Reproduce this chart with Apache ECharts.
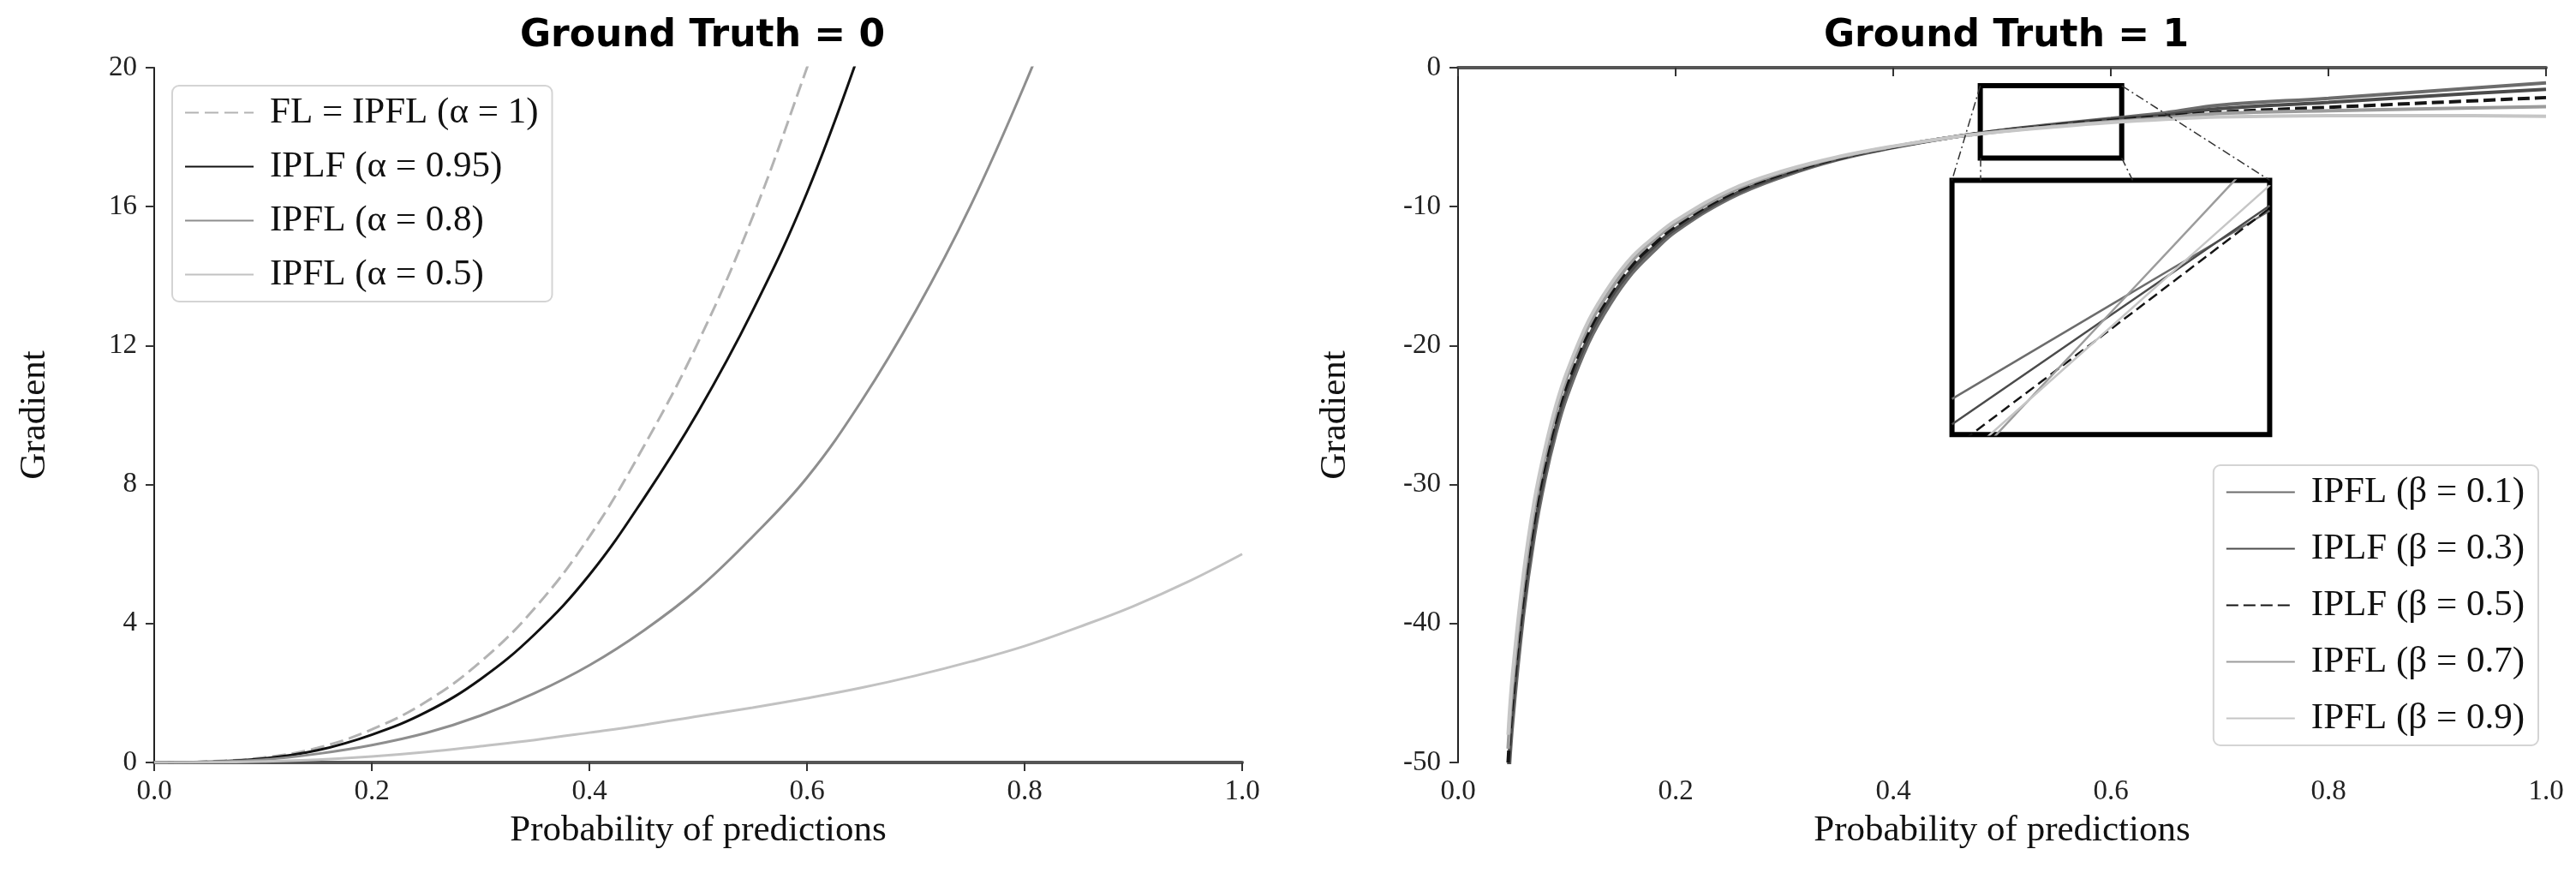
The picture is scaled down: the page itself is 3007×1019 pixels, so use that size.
<!DOCTYPE html>
<html>
<head>
<meta charset="utf-8">
<script src="https://cdn.jsdelivr.net/npm/echarts@6/dist/echarts.min.js"></script>
<style>
	html,body{margin:0;padding:0;background:#fff;}
	#chart{width:3007px;height:1019px;}
</style>
</head>
<body>
<div id="chart"></div>
<script>
// left panel: ground truth = 0
var xLeft = [0, 0.05, 0.1, 0.15, 0.2, 0.25, 0.3, 0.35, 0.4, 0.45, 0.5, 0.55, 0.6, 0.65, 0.7, 0.75, 0.8, 0.85, 0.9, 0.95, 1.0];
var gtZeroA100 = [0, 0.03, 0.14, 0.42, 0.95, 1.75, 2.9, 4.45, 6.5, 9.1, 12.1, 15.7, 20.0, 24.5];
var gtZeroA095 = [0, 0.02, 0.11, 0.35, 0.8, 1.45, 2.4, 3.7, 5.4, 7.6, 10.1, 13.0, 16.4, 20.6];
var gtZeroA080 = [0, 0.02, 0.08, 0.25, 0.5, 0.85, 1.35, 2.0, 2.8, 3.8, 5.0, 6.5, 8.2, 10.4, 13.0, 16.0, 19.5, 23.4];
var gtZeroA050 = [0, 0.005, 0.03, 0.08, 0.17, 0.3, 0.47, 0.65, 0.86, 1.08, 1.33, 1.58, 1.85, 2.15, 2.5, 2.9, 3.35, 3.9, 4.5, 5.2, 6.0];
var leftNames = ['FL = IPFL (α = 1)', 'IPLF (α = 0.95)', 'IPFL (α = 0.8)', 'IPFL (α = 0.5)'];

// right panel: ground truth = 1
var xRight = [0.046, 0.05, 0.06, 0.07, 0.08, 0.09, 0.1, 0.12, 0.14, 0.16, 0.18, 0.2, 0.25, 0.3, 0.35, 0.4, 0.45, 0.5, 0.55, 0.6, 0.65, 0.7, 0.8, 0.9, 1.0];
var gtOneB01 = [-52, -47.3, -39.5, -33.8, -29.6, -26.3, -23.7, -19.8, -17, -14.8, -13.2, -11.8, -9.4, -7.8, -6.6, -5.75, -5.05, -4.5, -4.05, -3.65, -3.25, -2.7, -2.2, -1.65, -1.1];
var gtOneB03 = [-51, -46.4, -38.8, -33.2, -29.1, -25.8, -23.2, -19.4, -16.6, -14.5, -12.9, -11.6, -9.25, -7.7, -6.55, -5.72, -5.05, -4.52, -4.1, -3.72, -3.4, -2.95, -2.5, -2.0, -1.55];
var gtOneB05 = [-50, -45.5, -38, -32.5, -28.5, -25.3, -22.8, -19, -16.3, -14.2, -12.7, -11.4, -9.1, -7.6, -6.5, -5.7, -5.05, -4.55, -4.15, -3.8, -3.5, -3.2, -2.85, -2.5, -2.15];
var gtOneB07 = [-49, -44.6, -37.2, -31.8, -27.9, -24.8, -22.3, -18.6, -16, -13.9, -12.4, -11.2, -8.95, -7.5, -6.45, -5.68, -5.05, -4.58, -4.2, -3.88, -3.6, -3.3, -3.1, -2.95, -2.8];
var gtOneB09 = [-48, -43.7, -36.5, -31.2, -27.4, -24.3, -21.9, -18.2, -15.6, -13.6, -12.2, -11, -8.8, -7.4, -6.4, -5.65, -5.05, -4.6, -4.25, -3.95, -3.72, -3.55, -3.45, -3.45, -3.5];
var rightNames = ['IPFL (β = 0.1)', 'IPLF (β = 0.3)', 'IPLF (β = 0.5)', 'IPFL (β = 0.7)', 'IPFL (β = 0.9)'];

// zoomed inset (values read inside the inset box)
var insetX = [0.48, 0.545, 0.61];
var insetB01 = [-4.79, -4.235, -3.68];
var insetB03 = [-4.94, -4.295, -3.65];
var insetB05 = [-5.085, -4.378, -3.665];
var insetB07 = [-5.28, -4.28, -3.28];
var insetB09 = [-5.2, -4.366, -3.53];
var insetYRange = [-5, -3.5];
var zoomBoxX = [0.48, 0.61];
var zoomBoxY = [-6.5, -1.3];
var insetBoxX = [0.454, 0.746];
var insetBoxY = [-26.4, -8.1];

function pairs(xs, ys){
	var out = [];
	for(var i = 0; i < ys.length; i++){
		out.push([xs[i], ys[i]]);
	}
	return out;
}

var serif = 'Liberation Serif';
var leftColors = ['#b3b3b3', '#111111', '#8e8e8e', '#c2c2c2'];
var rightColors = ['#6c6c6c', '#4b4b4b', '#151515', '#9c9c9c', '#c6c6c6'];

function xAxisCfg(gridIndex){
	return {
		type: 'value', gridIndex: gridIndex, min: 0, max: 1, interval: 0.2,
		name: 'Probability of predictions', nameLocation: 'middle', nameGap: 58,
		nameTextStyle: {fontFamily: serif, fontSize: 43, color: '#111'},
		axisLine: {show: true, lineStyle: {color: '#555', width: 4}},
		axisTick: {show: true, inside: false, length: 10, lineStyle: {color: '#333', width: 2}},
		axisLabel: {fontFamily: serif, fontSize: 33, color: '#222', margin: 18,
			formatter: function(v){ return v.toFixed(1); }},
		splitLine: {show: false}
	};
}
function yAxisCfg(gridIndex, min, max, interval, gap){
	return {
		type: 'value', gridIndex: gridIndex, min: min, max: max, interval: interval,
		name: 'Gradient', nameLocation: 'middle', nameGap: gap,
		nameTextStyle: {fontFamily: serif, fontSize: 43, color: '#111'},
		axisLine: {show: true, onZero: false, lineStyle: {color: '#222', width: 2}},
		axisTick: {show: true, inside: false, length: 10, lineStyle: {color: '#333', width: 2}},
		axisLabel: {fontFamily: serif, fontSize: 33, color: '#222', margin: 20},
		splitLine: {show: false}
	};
}

var series = [];
var leftData = [gtZeroA100, gtZeroA095, gtZeroA080, gtZeroA050];
for(var i = 0; i < leftData.length; i++){
	series.push({
		name: leftNames[i], type: 'line', xAxisIndex: 0, yAxisIndex: 0,
		data: pairs(xLeft, leftData[i]), showSymbol: false, symbol: 'none',
		smooth: 0.4,
		lineStyle: {color: leftColors[i], width: 3, type: i == 0 ? [16, 7] : 'solid'},
		itemStyle: {color: leftColors[i]}
	});
}
var rightData = [gtOneB01, gtOneB03, gtOneB05, gtOneB07, gtOneB09];
var insetData = [insetB01, insetB03, insetB05, insetB07, insetB09];
for(var j = 0; j < rightData.length; j++){
	series.push({
		name: rightNames[j], type: 'line', xAxisIndex: 1, yAxisIndex: 1,
		data: pairs(xRight, rightData[j]), showSymbol: false, symbol: 'none',
		smooth: 0.4,
		lineStyle: {color: rightColors[j], width: 4, type: j == 2 ? [14, 6] : 'solid'},
		itemStyle: {color: rightColors[j]}
	});
}
for(var k = 0; k < insetData.length; k++){
	series.push({
		name: rightNames[k], type: 'line', xAxisIndex: 2, yAxisIndex: 2, z: 8,
		data: pairs(insetX, insetData[k]), showSymbol: false, symbol: 'none',
		smooth: 0.3,
		lineStyle: {color: rightColors[k], width: 2.5, type: k == 2 ? [12, 6] : 'solid'},
		itemStyle: {color: rightColors[k]}
	});
}
// zoom box and connector lines on the right panel
var connStyle = {color: '#333', width: 1.5, type: [10, 4, 2, 4]};
series.push({
	type: 'line', xAxisIndex: 1, yAxisIndex: 1, data: [], silent: true, z: 9,
	markArea: {
		silent: true,
		itemStyle: {color: 'rgba(0,0,0,0)', borderColor: '#000', borderWidth: 6},
		data: [[{coord: [zoomBoxX[0], zoomBoxY[1]]}, {coord: [zoomBoxX[1], zoomBoxY[0]]}]]
	},
	markLine: {
		silent: true, symbol: 'none', label: {show: false}, lineStyle: connStyle,
		data: [
			[{coord: [zoomBoxX[0], zoomBoxY[1]]}, {coord: [insetBoxX[0], insetBoxY[1]]}],
			[{coord: [zoomBoxX[0], zoomBoxY[0]]}, {coord: [zoomBoxX[0], insetBoxY[1]]}],
			[{coord: [zoomBoxX[1], zoomBoxY[0]]}, {coord: [zoomBoxX[1] + 0.01, insetBoxY[1]]}],
			[{coord: [zoomBoxX[1], zoomBoxY[1]]}, {coord: [insetBoxX[1], insetBoxY[1]]}]
		]
	}
});

var legendCommon = {
	orient: 'vertical', itemWidth: 80, itemHeight: 14,
	padding: [10, 16, 10, 14], backgroundColor: '#fff',
	borderColor: '#d4d4d4', borderWidth: 2, borderRadius: 8,
	itemStyle: {opacity: 0},
	textStyle: {fontFamily: serif, fontSize: 43, color: '#111', padding: [0, 0, 0, 14]},
	selectedMode: false
};

var myChart = echarts.init(document.getElementById('chart'), null, {renderer: 'canvas'});
var option = {
	animation: false,
	backgroundColor: '#fff',
	title: [
		{text: 'Ground Truth = 0', left: 815, top: 16, textAlign: 'center',
			textStyle: {fontFamily: 'DejaVu Sans', fontWeight: 'bold', fontSize: 44, color: '#000'}},
		{text: 'Ground Truth = 1', left: 2337, top: 16, textAlign: 'center',
			textStyle: {fontFamily: 'DejaVu Sans', fontWeight: 'bold', fontSize: 44, color: '#000'}}
	],
	legend: [
		echarts.util.merge({left: 201, top: 100, itemGap: 20, data: leftNames}, legendCommon),
		echarts.util.merge({right: 44, top: 543, itemGap: 23, data: rightNames}, legendCommon)
	],
	grid: [
		{left: 180, top: 79, width: 1270, height: 811},
		{left: 1702, top: 79, width: 1270, height: 811},
		{left: 2278, top: 212, width: 372, height: 293, show: true, z: 5,
			backgroundColor: '#fff', borderColor: '#000', borderWidth: 6}
	],
	xAxis: [
		xAxisCfg(0),
		xAxisCfg(1),
		{type: 'value', gridIndex: 2, min: insetX[0], max: insetX[2], show: false}
	],
	yAxis: [
		yAxisCfg(0, 0, 20, 4, 118),
		yAxisCfg(1, -50, 0, 10, 122),
		{type: 'value', gridIndex: 2, min: insetYRange[0], max: insetYRange[1], show: false}
	],
	series: series
};
myChart.setOption(option);

// place the inset grid over the data box it belongs to
var p0 = myChart.convertToPixel({gridIndex: 1}, [insetBoxX[0], insetBoxY[1]]);
var p1 = myChart.convertToPixel({gridIndex: 1}, [insetBoxX[1], insetBoxY[0]]);
myChart.setOption({
	grid: [{}, {}, {left: p0[0], top: p0[1], width: p1[0] - p0[0], height: p1[1] - p0[1]}]
});
</script>
</body>
</html>
